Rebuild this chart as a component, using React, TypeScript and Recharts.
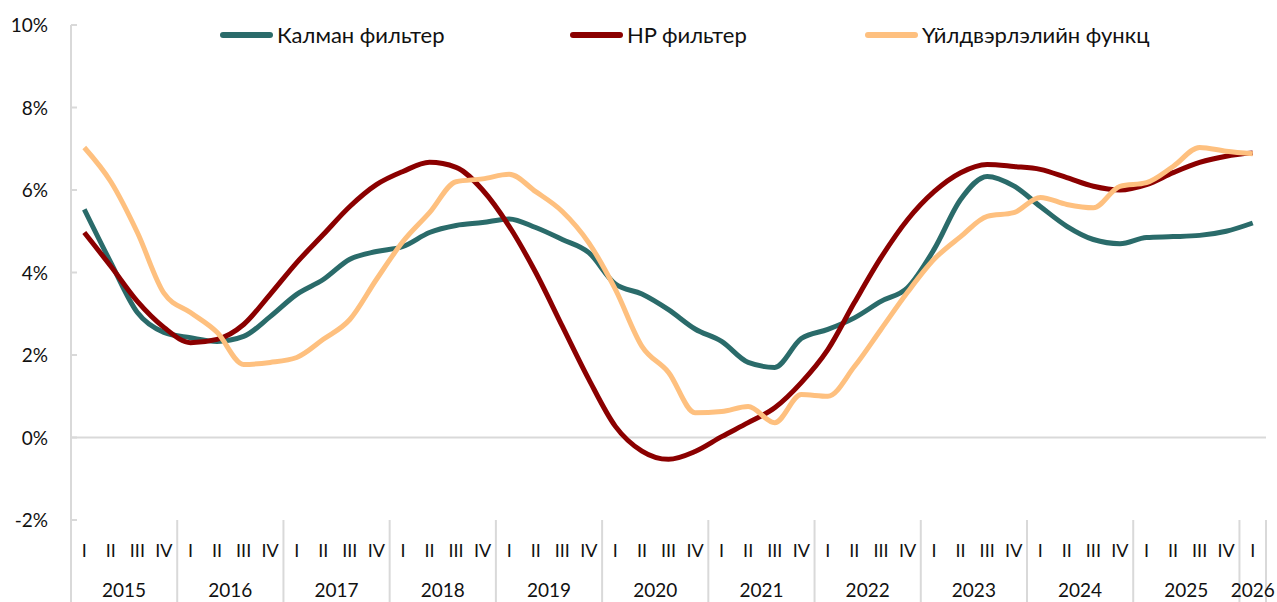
import React from 'react';
import { LineChart, Line, XAxis, YAxis, ReferenceLine } from 'recharts';

const years = ['2015', '2016', '2017', '2018', '2019', '2020', '2021', '2022', '2023', '2024', '2025', '2026'];
const quarters = ['I', 'II', 'III', 'IV'];

const kalman = [
  5.53, 4.24, 3.03, 2.55, 2.42, 2.33, 2.45, 2.93, 3.47, 3.83, 4.32, 4.51, 4.63, 4.97, 5.14, 5.21, 5.3, 5.09, 4.8,
  4.48, 3.72, 3.48, 3.1, 2.63, 2.33, 1.82, 1.7, 2.4, 2.62, 2.9, 3.3, 3.63, 4.56, 5.77, 6.33, 6.1, 5.6, 5.12, 4.8, 4.7,
  4.85, 4.87, 4.9, 5.0, 5.2,
];
const hp = [
  4.97, 4.15, 3.3, 2.67, 2.3, 2.38, 2.74, 3.47, 4.24, 4.92, 5.6, 6.13, 6.45, 6.67, 6.55, 6.0, 5.12, 4.0, 2.7, 1.41,
  0.27, -0.33, -0.53, -0.34, 0.02, 0.36, 0.72, 1.33, 2.13, 3.27, 4.36, 5.28, 5.96, 6.42, 6.62, 6.57, 6.5, 6.3, 6.09,
  6.0, 6.13, 6.42, 6.67, 6.82, 6.9,
];
const prodFn = [
  7.03, 6.2, 4.97, 3.5, 3.03, 2.55, 1.77, 1.82, 1.94, 2.38, 2.86, 3.83, 4.75, 5.45, 6.2, 6.27, 6.38, 5.96, 5.48,
  4.72, 3.59, 2.21, 1.58, 0.6, 0.63, 0.75, 0.36, 1.04, 1.0, 1.72, 2.62, 3.52, 4.32, 4.87, 5.36, 5.45, 5.82, 5.65,
  5.57, 6.09, 6.18, 6.57, 7.03, 6.94, 6.88,
];
const yTicks = [-2, 0, 2, 4, 6, 8, 10];

const seriesNames = ['Калман фильтер', 'HP фильтер', 'Үйлдвэрлэлийн функц'];
const colors = ['#2a6b6a', '#8b0000', '#fec07f'];

const data = kalman.map((k, i) => ({
  id: `${years[Math.floor(i / 4)]}-${quarters[i % 4]}`,
  kalman: k,
  hp: hp[i],
  prod: prodFn[i],
}));

const W = 1277;
const H = 602;
const M = { top: 25, right: 11, left: 0, bottom: 0 };
const Y_W = 71;
const X_H = 82;
const HALF = (W - M.right - Y_W) / data.length / 2;
const FONT = 'Lato, "Open Sans", sans-serif';
const GRID = '#d9d9d9';

function QuarterTick(props: any) {
  const { x, y, payload, index } = props;
  const [yr, q] = String(payload.value).split('-');
  const i = index as number;
  const last = i === data.length - 1;
  const yearCount = years.indexOf(yr) === years.length - 1 ? 1 : 4;
  return (
    <g>
      <text x={x} y={y + 37} textAnchor="middle" fontSize={18} fill="#111" fontFamily={FONT}>
        {q}
      </text>
      {i % 4 === 0 && <line x1={x - HALF} x2={x - HALF} y1={y} y2={y + X_H} stroke={GRID} strokeWidth={2} />}
      {last && <line x1={x + HALF} x2={x + HALF} y1={y} y2={y + X_H} stroke={GRID} strokeWidth={2} />}
      {i % 4 === 0 && (
        <text
          x={x + (yearCount - 1) * HALF}
          y={y + 77}
          textAnchor="middle"
          fontSize={19}
          fill="#111"
          fontFamily={FONT}
        >
          {yr}
        </text>
      )}
    </g>
  );
}

function PctTick(props: any) {
  const { x, y, payload } = props;
  return (
    <g>
      <line x1={x} x2={x + 6} y1={y} y2={y} stroke={GRID} strokeWidth={2} />
      <text x={x - 23} y={y + 7} textAnchor="end" fontSize={19} fill="#111" fontFamily={FONT}>
        {`${payload.value}%`}
      </text>
    </g>
  );
}

function TopLegend() {
  const widths = [350, 295, 320];
  return (
    <div
      style={{
        position: 'absolute',
        top: 21,
        left: 0,
        display: 'flex',
        paddingLeft: 220,
        fontFamily: FONT,
        fontSize: 22,
        color: '#111',
        lineHeight: '28px',
      }}
    >
      {seriesNames.map((n, i) => (
        <div key={n} style={{ width: widths[i], display: 'flex', alignItems: 'center' }}>
          <span
            style={{
              display: 'inline-block',
              width: 53,
              height: 6,
              borderRadius: 3,
              background: colors[i],
              marginRight: 4,
            }}
          />
          {n}
        </div>
      ))}
    </div>
  );
}

export default function App() {
  return (
    <div style={{ position: 'absolute', left: 0, top: 0, width: W, height: H, background: '#fff' }}>
      <LineChart width={W} height={H} data={data} margin={M}>
        <XAxis
          dataKey="id"
          interval={0}
          height={X_H}
          axisLine={false}
          tickLine={false}
          tickSize={0}
          tickMargin={0}
          tick={<QuarterTick />}
          padding={{ left: HALF, right: HALF }}
        />
        <YAxis
          width={Y_W}
          domain={[-2, 10]}
          ticks={yTicks}
          axisLine={{ stroke: GRID, strokeWidth: 2 }}
          tickLine={false}
          tickSize={0}
          tickMargin={0}
          tick={<PctTick />}
        />
        <ReferenceLine y={0} stroke={GRID} strokeWidth={2} />
        <Line type="monotone" dataKey="kalman" name={seriesNames[0]} stroke={colors[0]} strokeWidth={5} dot={false} isAnimationActive={false} />
        <Line type="monotone" dataKey="hp" name={seriesNames[1]} stroke={colors[1]} strokeWidth={5} dot={false} isAnimationActive={false} />
        <Line type="monotone" dataKey="prod" name={seriesNames[2]} stroke={colors[2]} strokeWidth={5} dot={false} isAnimationActive={false} />
      </LineChart>
      <TopLegend />
    </div>
  );
}
